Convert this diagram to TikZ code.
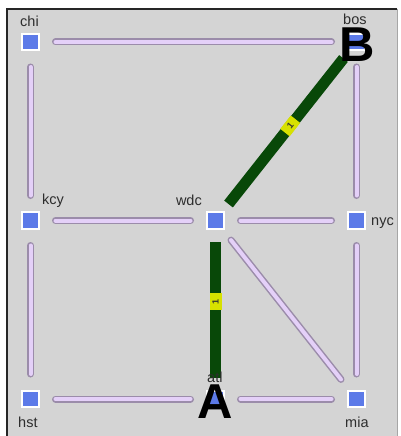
\documentclass[tikz,border=0pt]{standalone}
\usepackage{fontspec}
\setmainfont{Liberation Sans}
\definecolor{bgray}{RGB}{212,212,212}
\definecolor{rblue}{RGB}{92,122,232}
\definecolor{lnkfill}{RGB}{228,208,248}
\definecolor{lnkedge}{RGB}{155,140,170}
\definecolor{lspgreen}{RGB}{8,72,8}
\definecolor{tagyel}{RGB}{215,225,0}
\definecolor{lblgray}{RGB}{45,45,45}
\begin{document}
\begin{tikzpicture}[x=1pt, y=-1pt,
  rtr/.style={draw=white, line width=2pt, fill=rblue, rectangle, minimum size=16.5pt, inner sep=0pt},
  lbl/.style={text=lblgray, inner sep=0pt, font=\fontsize{14.5}{16}\selectfont},
  lnk/.style={draw=lnkedge, line width=1.5pt, double=lnkfill, double distance=4pt,
    line cap=round, shorten <=25pt, shorten >=25pt},
  lsp/.style={draw=lspgreen, line width=11pt, shorten <=21pt, shorten >=21pt},
  tag/.style={fill=tagyel, sloped, minimum width=17pt, minimum height=12pt, inner sep=0pt,
    text=black!80, font=\fontsize{9}{9}\selectfont\bfseries},
  big/.style={inner sep=0pt, anchor=base, font=\fontsize{49}{49}\selectfont\bfseries}]

  % window frame
  \useasboundingbox (0,0) rectangle (400,436);
  \fill[white] (0,0) rectangle (400,436);
  \fill[bgray] (7,9) rectangle (397,437);
  \draw[line width=1.2pt, black!85] (7,437) -- (7,9) -- (397,9);
  \draw[line width=1pt, black!35] (397,9) -- (397,437);

  % routers
  \node[rtr] (chi) at (30.5,42) {};
  \node[rtr] (bos) at (356.5,42) {};
  \node[rtr] (kcy) at (30.5,220.5) {};
  \node[rtr] (wdc) at (215.5,220.5) {};
  \node[rtr] (nyc) at (356.5,220.5) {};
  \node[rtr] (hst) at (30.5,399) {};
  \node[rtr] (atl) at (215.5,399) {};
  \node[rtr] (mia) at (356.5,399) {};

  % router names
  \node[lbl, anchor=base west] (chi-l) at ([xshift=-10.5pt,yshift=15pt]chi.center) {chi};
  \node[lbl, anchor=base west] (bos-l) at ([xshift=-13.5pt,yshift=17pt]bos.center) {bos};
  \node[lbl, anchor=base west] (kcy-l) at ([xshift=11.5pt,yshift=16.5pt]kcy.center) {kcy};
  \node[lbl, anchor=base east] (wdc-l) at ([xshift=-13.5pt,yshift=15.5pt]wdc.center) {wdc};
  \node[lbl, anchor=base west] (nyc-l) at ([xshift=14.5pt,yshift=-5pt]nyc.center) {nyc};
  \node[lbl, anchor=base west] (hst-l) at ([xshift=-12.5pt,yshift=-28.5pt]hst.center) {hst};
  \node[lbl, anchor=base west] (mia-l) at ([xshift=-11.5pt,yshift=-28.5pt]mia.center) {mia};

  % links
  \draw[lnk] (chi.center) -- (bos.center);
  \draw[lnk] (chi.center) -- (kcy.center);
  \draw[lnk] (bos.center) -- (nyc.center);
  \draw[lnk] (kcy.center) -- (wdc.center);
  \draw[lnk] (wdc.center) -- (nyc.center);
  \draw[lnk] (kcy.center) -- (hst.center);
  \draw[lnk] (nyc.center) -- (mia.center);
  \draw[lnk] (hst.center) -- (atl.center);
  \draw[lnk] (atl.center) -- (mia.center);
  \draw[lnk] (wdc.center) -- (mia.center);

  % path A -> wdc -> B
  \draw[lsp] (atl.center) -- node[tag, pos=0.546] (t1) {1} (wdc.center);
  \draw[lsp] (wdc.center) -- node[tag, pos=0.53] (t2) {1} (bos.center);

  \node[lbl, anchor=base west] (atl-l) at ([xshift=-8.5pt,yshift=17pt]atl.center) {atl};

  % end points
  \node[big] (A) at ([xshift=-0.5pt,yshift=-19pt]atl.center) {A};
  \node[big] (B) at ([xshift=0.5pt,yshift=-20pt]bos.center) {B};

\end{tikzpicture}
\end{document}
